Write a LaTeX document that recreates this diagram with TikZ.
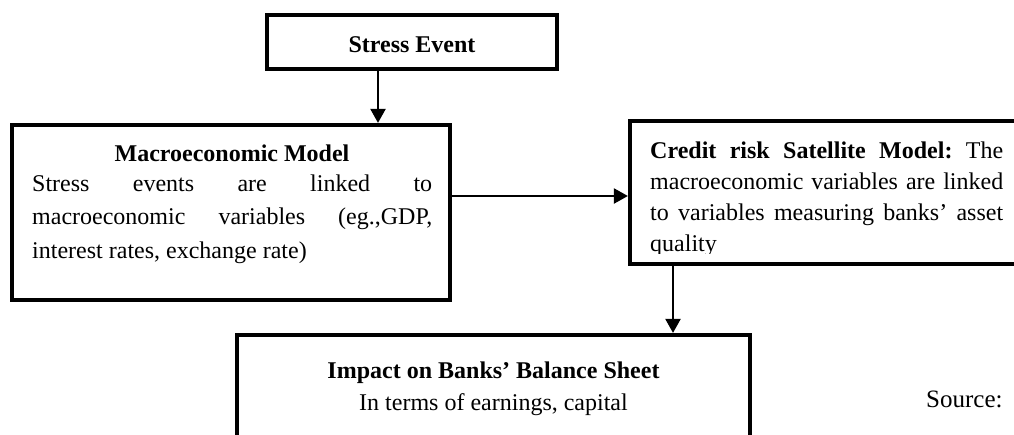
\documentclass[tikz,border=0pt]{standalone}
\usepackage{fontspec}
\setmainfont{Liberation Serif}
\usetikzlibrary{arrows.meta}
\tikzset{
  box/.style={draw, line width=4.2pt, inner sep=0pt},
  arr/.style={line width=2.2pt, -{Triangle[width=15pt,length=14pt]}},
  txt/.style={inner sep=0pt, font=\fontsize{24}{32}\selectfont},
}
\begin{document}
\begin{tikzpicture}[x=1pt,y=-1pt]
\useasboundingbox (0,0) rectangle (1014,434);
\clip (0,0) rectangle (1014,434);
% boxes
\node[box, minimum width=290pt, minimum height=54pt] (stress) at (412,42) {};
\node[box, minimum width=438pt, minimum height=175pt] (macro) at (231,212.5) {};
\node[box, minimum width=410pt, minimum height=143pt] (credit) at (835,192.5) {};
\node[box, minimum width=513pt, minimum height=135pt] (impact) at (493.5,402.5) {};
% texts
\node[txt, anchor=base] (tstress) at (412,52) {\textbf{Stress Event}};
\node[txt, anchor=base] (tmacro) at (232,161) {\textbf{Macroeconomic Model}};
\node[txt, anchor=base west] (bmacro) at (32,191) {\parbox[t]{400pt}{\fontsize{24}{33.5}\selectfont
Stress\hfill events\hfill are\hfill linked\hfill to\\
macroeconomic\hfill variables\hfill (eg.,GDP,\\
interest rates, exchange rate)}};
\begin{scope}
\clip (600,100) rectangle (1014,253);
\node[txt, anchor=base west] (tcredit) at (650,158) {\parbox[t]{353pt}{\fontsize{24}{31}\selectfont
\textbf{Credit\hfill risk\hfill Satellite\hfill Model:}\hfill The\\
macroeconomic\hfill variables\hfill are\hfill linked\\
to\hfill variables\hfill measuring\hfill banks’\hfill asset\\
quality}};
\end{scope}
\node[txt, anchor=base] (timpact) at (493.5,378) {\textbf{Impact on Banks’ Balance Sheet}};
\node[txt, anchor=base] (bimpact) at (493.5,410) {In terms of earnings, capital};
\node[txt, anchor=base west, font=\fontsize{25}{32}\selectfont] (source) at (926,407) {Source:};
% connectors
\draw[arr] ([xshift=-34pt]stress.south) -- ([xshift=-34pt]stress.south |- macro.north);
\draw[arr] ([yshift=16.5pt]macro.east) -- ([yshift=16.5pt]macro.east -| credit.west);
\draw[arr] ([xshift=-162pt]credit.south) -- ([xshift=-162pt]credit.south |- impact.north);
\end{tikzpicture}
\end{document}
